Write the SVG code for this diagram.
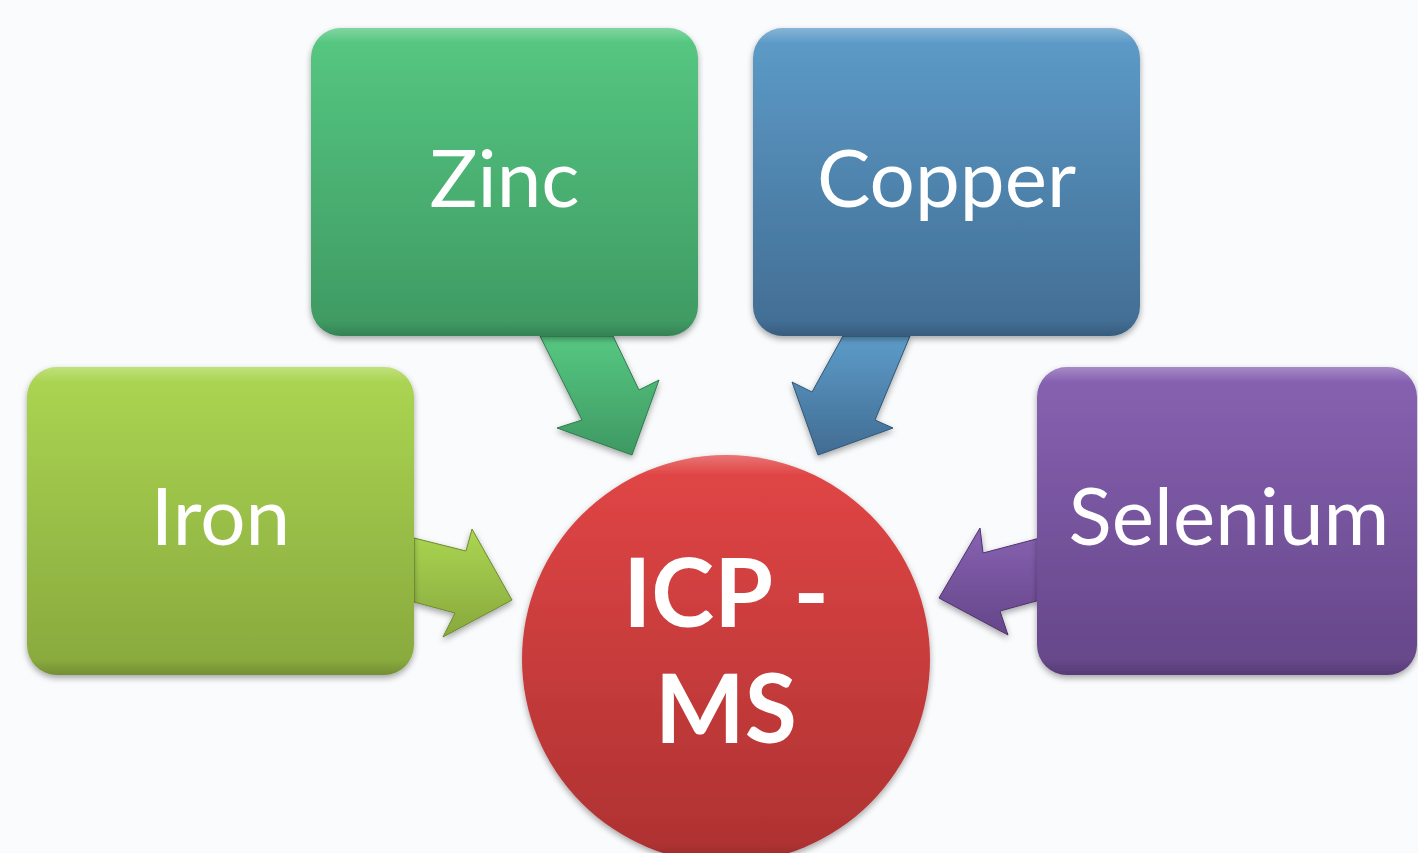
<svg xmlns="http://www.w3.org/2000/svg" width="1418" height="853" viewBox="0 0 1418 853">
<defs>
<linearGradient id="gZinc" x1="0" y1="0" x2="0" y2="1"><stop offset="0" stop-color="#56c882"/><stop offset="1" stop-color="#3e9962"/></linearGradient>
<linearGradient id="gCopper" x1="0" y1="0" x2="0" y2="1"><stop offset="0" stop-color="#5d9cc9"/><stop offset="1" stop-color="#416c92"/></linearGradient>
<linearGradient id="gIron" x1="0" y1="0" x2="0" y2="1"><stop offset="0" stop-color="#abd652"/><stop offset="1" stop-color="#88a83d"/></linearGradient>
<linearGradient id="gSel" x1="0" y1="0" x2="0" y2="1"><stop offset="0" stop-color="#8862b2"/><stop offset="1" stop-color="#654689"/></linearGradient>
<linearGradient id="gRed" x1="0" y1="0" x2="0" y2="1"><stop offset="0" stop-color="#e24646"/><stop offset="1" stop-color="#ad3131"/></linearGradient>
<linearGradient id="hl" x1="0" y1="0" x2="0" y2="1"><stop offset="0" stop-color="#fff" stop-opacity="0.25"/><stop offset="0.05" stop-color="#fff" stop-opacity="0"/><stop offset="0.95" stop-color="#000" stop-opacity="0"/><stop offset="1" stop-color="#000" stop-opacity="0.15"/></linearGradient>
<filter id="sh" x="-10%" y="-10%" width="120%" height="125%"><feDropShadow dx="0" dy="3" stdDeviation="3" flood-color="#000" flood-opacity="0.35"/></filter>
</defs>
<style>
.lbl{font-family:Lato,"Open Sans","Liberation Sans",sans-serif;fill:#ffffff;text-anchor:middle;font-size:80px}
.big{font-family:Lato,"Open Sans","Liberation Sans",sans-serif;fill:#ffffff;text-anchor:middle;font-size:95px;font-weight:bold}
.arr{stroke-width:1;stroke-linejoin:round}
</style>
<rect width="1418" height="853" fill="#fafbfd"/>
<g id="connectors" filter="url(#sh)">
<polygon class="arr" fill="url(#gZinc)" stroke="#2f7a4c" points="540,336 613,336 639,390 659,380 632,455 557,428 582,420"/>
<polygon class="arr" fill="url(#gCopper)" stroke="#2f5676" points="843,336 910,336 875,420 893,428 818,455 792,382 812,392"/>
<polygon class="arr" fill="url(#gIron)" stroke="#6d8a2c" points="414,538 466,551 472,529 512,600 443,637 455,613 414,602"/>
<polygon class="arr" fill="url(#gSel)" stroke="#4f336e" points="1040,538 983,553 980,528 939,598 1008,635 1000,611 1040,600"/>
</g>
<g id="node-zinc" filter="url(#sh)">
<rect x="311" y="28" width="387" height="308" rx="30" fill="url(#gZinc)"/>
<rect x="311" y="28" width="387" height="308" rx="30" fill="url(#hl)"/>
<text class="lbl" x="504.5" y="207">Zinc</text>
</g>
<g id="node-copper" filter="url(#sh)">
<rect x="753" y="28" width="387" height="308" rx="30" fill="url(#gCopper)"/>
<rect x="753" y="28" width="387" height="308" rx="30" fill="url(#hl)"/>
<text class="lbl" x="946.5" y="207">Copper</text>
</g>
<g id="node-iron" filter="url(#sh)">
<rect x="27" y="367" width="387" height="308" rx="30" fill="url(#gIron)"/>
<rect x="27" y="367" width="387" height="308" rx="30" fill="url(#hl)"/>
<text class="lbl" x="220.5" y="545">Iron</text>
</g>
<g id="node-selenium" filter="url(#sh)">
<rect x="1037" y="367" width="380" height="308" rx="30" fill="url(#gSel)"/>
<rect x="1037" y="367" width="380" height="308" rx="30" fill="url(#hl)"/>
<text class="lbl" x="1229" y="545">Selenium</text>
</g>
<g id="node-icpms" filter="url(#sh)">
<circle cx="726" cy="659" r="204" fill="url(#gRed)"/>
<circle cx="726" cy="659" r="204" fill="url(#hl)"/>
<text class="big" x="726" y="627">ICP -</text>
<text class="big" x="726" y="743">MS</text>
</g>
</svg>
